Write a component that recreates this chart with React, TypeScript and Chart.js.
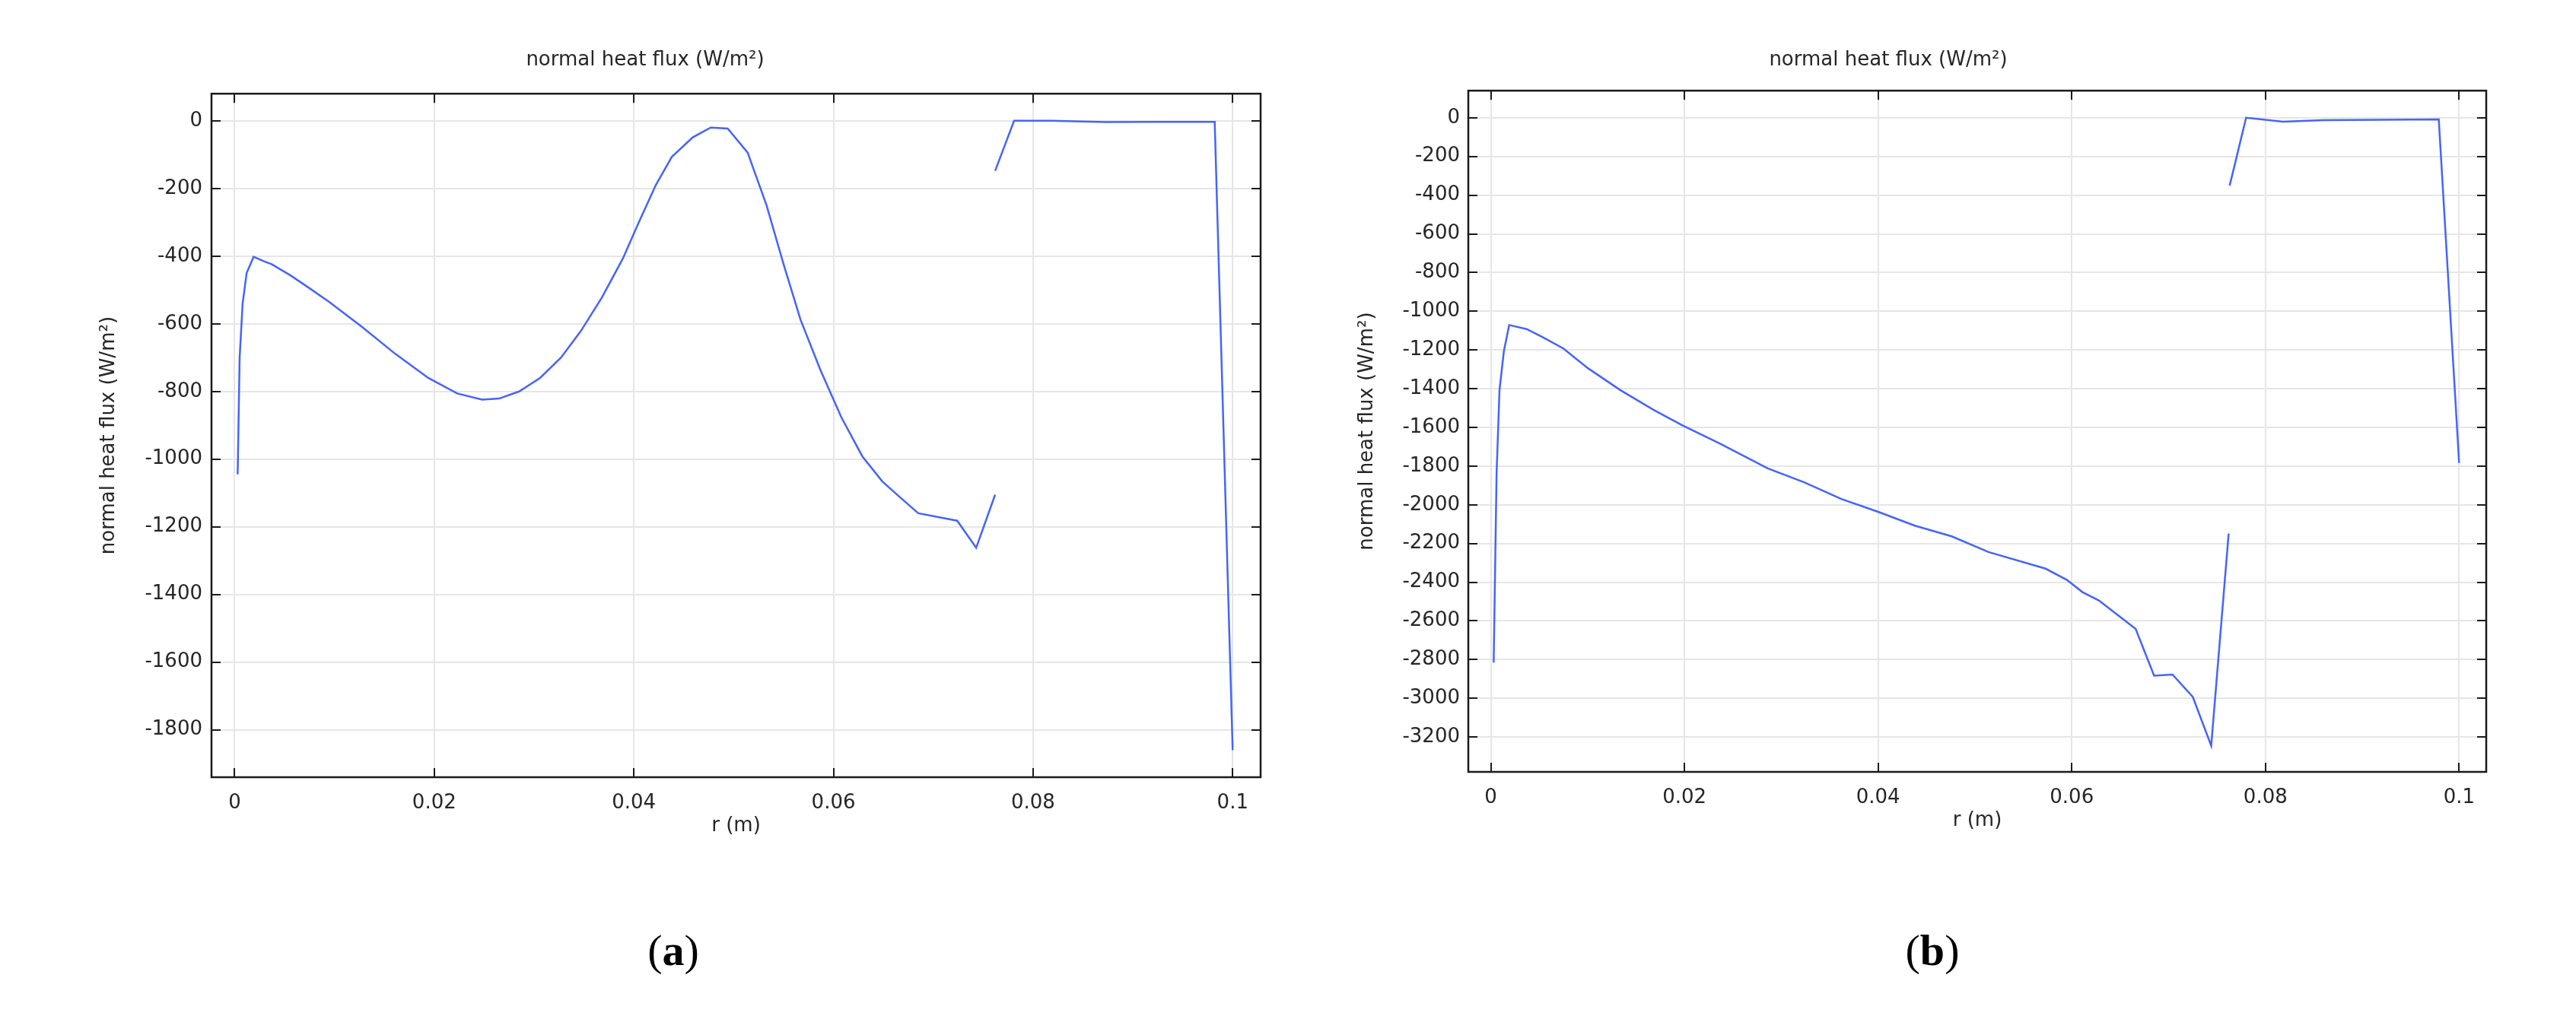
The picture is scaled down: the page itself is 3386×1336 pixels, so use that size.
import React, { useEffect, useRef } from "react";
import { Chart, registerables } from "chart.js";

Chart.register(...registerables);

// ---------- data ----------
const titleText = "normal heat flux (W/m²)";
const yAxisTitle = "normal heat flux (W/m²)";
const xAxisTitle = "r (m)";

const xTickValues = [0, 0.02, 0.04, 0.06, 0.08, 0.1];
const xTickLabels = ["0", "0.02", "0.04", "0.06", "0.08", "0.1"];

const yTickValuesA = [0, -200, -400, -600, -800, -1000, -1200, -1400, -1600, -1800];
const yTickValuesB = [0, -200, -400, -600, -800, -1000, -1200, -1400, -1600, -1800, -2000, -2200, -2400, -2600, -2800, -3000, -3200];

// (a) first segment
const rA1 = [0.0003, 0.0005, 0.0008, 0.0012, 0.0019, 0.0029, 0.0037, 0.0056, 0.0074, 0.0095, 0.0128, 0.0161, 0.0194, 0.0223, 0.0248, 0.0265, 0.0285, 0.0306, 0.0327, 0.0347, 0.0368, 0.0389, 0.0405, 0.0422, 0.0438, 0.0459, 0.0477, 0.0494, 0.0514, 0.0533, 0.055, 0.0567, 0.0587, 0.0608, 0.0629, 0.0649, 0.0666, 0.0685, 0.0724, 0.0743, 0.0762];
const qA1 = [-1045, -700, -540, -450, -402, -415, -424, -457, -493, -536, -610, -689, -760, -806, -824, -821, -800, -760, -700, -621, -522, -407, -300, -190, -107, -49, -20, -23, -94, -250, -424, -588, -737, -877, -992, -1066, -1111, -1160, -1182, -1262, -1105];
// (a) second segment
const rA2 = [0.0762, 0.0781, 0.0818, 0.0873, 0.0919, 0.0982, 0.1];
const qA2 = [-148, 0, 0, -4, -3, -3, -1860];

// (b) first segment
const rB1 = [0.0003, 0.0006, 0.0009, 0.00135, 0.0019, 0.0037, 0.0054, 0.0075, 0.01, 0.0134, 0.0168, 0.0198, 0.0236, 0.0286, 0.0324, 0.0362, 0.04, 0.0438, 0.0476, 0.0514, 0.0573, 0.0595, 0.0611, 0.0628, 0.0649, 0.0666, 0.0685, 0.0704, 0.0725, 0.0744, 0.0762];
const qB1 = [-2815, -1840, -1408, -1207, -1071, -1092, -1135, -1192, -1293, -1408, -1509, -1590, -1682, -1812, -1884, -1970, -2036, -2108, -2163, -2244, -2330, -2388, -2451, -2494, -2575, -2641, -2883, -2877, -2993, -3245, -2149];
// (b) second segment
const rB2 = [0.0763, 0.0769, 0.078, 0.0818, 0.086, 0.0979, 0.1];
const qB2 = [-351, -228, 0, -20, -12, -9, -1783];

const xRange = { min: -0.00232, max: 0.1028 };
const yRangeA = { min: -1940, max: 80 };
const yRangeB = { min: -3380, max: 140 };

const panelLabels = ["a", "b"];

// ---------- styling ----------
const FONT = "'DejaVu Sans', sans-serif";
const TEXT_COLOR = "#262626";
const LINE_COLOR = "rgb(70, 100, 250)";
const GRID_COLOR = "#e6e6e6";

const toPoints = (xs: number[], ys: number[]) => xs.map((x, i) => ({ x, y: ys[i] }));

const framePlugin = {
  id: "frameTicks",
  afterDatasetsDraw(chart: any) {
    const { ctx, chartArea: a, scales } = chart;
    const xs = scales.x;
    const ys = scales.y;
    const L = 12;
    ctx.save();
    ctx.strokeStyle = "#1a1a1a";
    ctx.lineWidth = 2;
    ctx.beginPath();
    for (const t of xs.ticks) {
      const px = Math.round(xs.getPixelForValue(t.value));
      ctx.moveTo(px, a.bottom);
      ctx.lineTo(px, a.bottom - L);
      ctx.moveTo(px, a.top);
      ctx.lineTo(px, a.top + L);
    }
    for (const t of ys.ticks) {
      const py = Math.round(ys.getPixelForValue(t.value));
      ctx.moveTo(a.left, py);
      ctx.lineTo(a.left + L, py);
      ctx.moveTo(a.right, py);
      ctx.lineTo(a.right - L, py);
    }
    ctx.stroke();
    ctx.lineWidth = 2.5;
    ctx.strokeRect(a.left, a.top, a.right - a.left, a.bottom - a.top);
    ctx.restore();
  },
};

type PanelProps = {
  left: number;
  top: number;
  width: number;
  height: number;
  yAxisWidth: number;
  padRight: number;
  titleBottomPad: number;
  yTitlePad: number;
  yTickPad: number;
  yTicks: number[];
  yRange: { min: number; max: number };
  seg1: { x: number; y: number }[];
  seg2: { x: number; y: number }[];
};

function Panel(p: PanelProps) {
  const ref = useRef<HTMLCanvasElement | null>(null);
  useEffect(() => {
    if (!ref.current) return;
    const font = { family: FONT, size: 26, weight: "normal" as const };
    const ds = (data: { x: number; y: number }[]) => ({
      data,
      showLine: true,
      borderColor: LINE_COLOR,
      backgroundColor: LINE_COLOR,
      borderWidth: 2.5,
      pointRadius: 0,
      tension: 0,
    });
    const chart = new Chart(ref.current, {
      type: "scatter",
      data: { datasets: [ds(p.seg1), ds(p.seg2)] },
      options: {
        responsive: false,
        animation: false,
        layout: { padding: { left: 0, right: p.padRight, top: 0, bottom: 0 } },
        plugins: {
          legend: { display: false },
          tooltip: { enabled: false },
          title: {
            display: true,
            text: titleText,
            font,
            color: TEXT_COLOR,
            padding: { top: 64, bottom: p.titleBottomPad },
          },
        },
        scales: {
          x: {
            type: "linear",
            min: xRange.min,
            max: xRange.max,
            afterBuildTicks: (s: any) => {
              s.ticks = xTickValues.map((v) => ({ value: v }));
            },
            afterFit: (s: any) => {
              s.height = 90;
            },
            ticks: {
              callback: (_v: any, i: number) => xTickLabels[i],
              font,
              color: TEXT_COLOR,
              padding: 19,
              maxRotation: 0,
              autoSkip: false,
            },
            grid: { color: GRID_COLOR, lineWidth: 2, drawTicks: false },
            border: { display: false },
            title: {
              display: true,
              text: xAxisTitle,
              font,
              color: TEXT_COLOR,
              padding: { top: 0, bottom: 10 },
            },
          },
          y: {
            type: "linear",
            min: p.yRange.min,
            max: p.yRange.max,
            afterBuildTicks: (s: any) => {
              s.ticks = p.yTicks.map((v) => ({ value: v }));
            },
            afterFit: (s: any) => {
              s.width = p.yAxisWidth;
            },
            ticks: {
              callback: (v: any) => String(v),
              font,
              color: TEXT_COLOR,
              padding: p.yTickPad,
              autoSkip: false,
            },
            grid: { color: GRID_COLOR, lineWidth: 2, drawTicks: false },
            border: { display: false },
            title: {
              display: true,
              text: yAxisTitle,
              font,
              color: TEXT_COLOR,
              padding: { top: p.yTitlePad, bottom: 0 },
            },
          },
        },
      },
      plugins: [framePlugin],
    } as any);
    return () => chart.destroy();
  }, []);
  return (
    <canvas
      ref={ref}
      width={p.width}
      height={p.height}
      style={{ position: "absolute", left: p.left, top: p.top, width: p.width, height: p.height }}
    />
  );
}

function PanelLabel({ letter, cx, cy }: { letter: string; cx: number; cy: number }) {
  return (
    <div
      style={{
        position: "absolute",
        left: cx - 100,
        top: cy - 40,
        width: 200,
        height: 80,
        lineHeight: "80px",
        textAlign: "center",
        fontFamily: "'Liberation Serif', serif",
        fontSize: 58,
        color: "#000",
      }}
    >
      (<b>{letter}</b>)
    </div>
  );
}

export default function App() {
  return (
    <div style={{ position: "absolute", left: 0, top: 0, width: 3386, height: 1336, background: "#fff", overflow: "hidden" }}>
      <Panel
        left={39}
        top={0}
        width={1660}
        height={1112}
        yAxisWidth={239}
        padRight={42}
        titleBottomPad={28}
        yTitlePad={89}
        yTickPad={12}
        yTicks={yTickValuesA}
        yRange={yRangeA}
        seg1={toPoints(rA1, qA1)}
        seg2={toPoints(rA2, qA2)}
      />
      <Panel
        left={1696}
        top={0}
        width={1580}
        height={1105}
        yAxisWidth={234}
        padRight={8}
        titleBottomPad={24}
        yTitlePad={86}
        yTickPad={11}
        yTicks={yTickValuesB}
        yRange={yRangeB}
        seg1={toPoints(rB1, qB1)}
        seg2={toPoints(rB2, qB2)}
      />
      <PanelLabel letter={panelLabels[0]} cx={885} cy={1250} />
      <PanelLabel letter={panelLabels[1]} cx={2540} cy={1250} />
    </div>
  );
}
